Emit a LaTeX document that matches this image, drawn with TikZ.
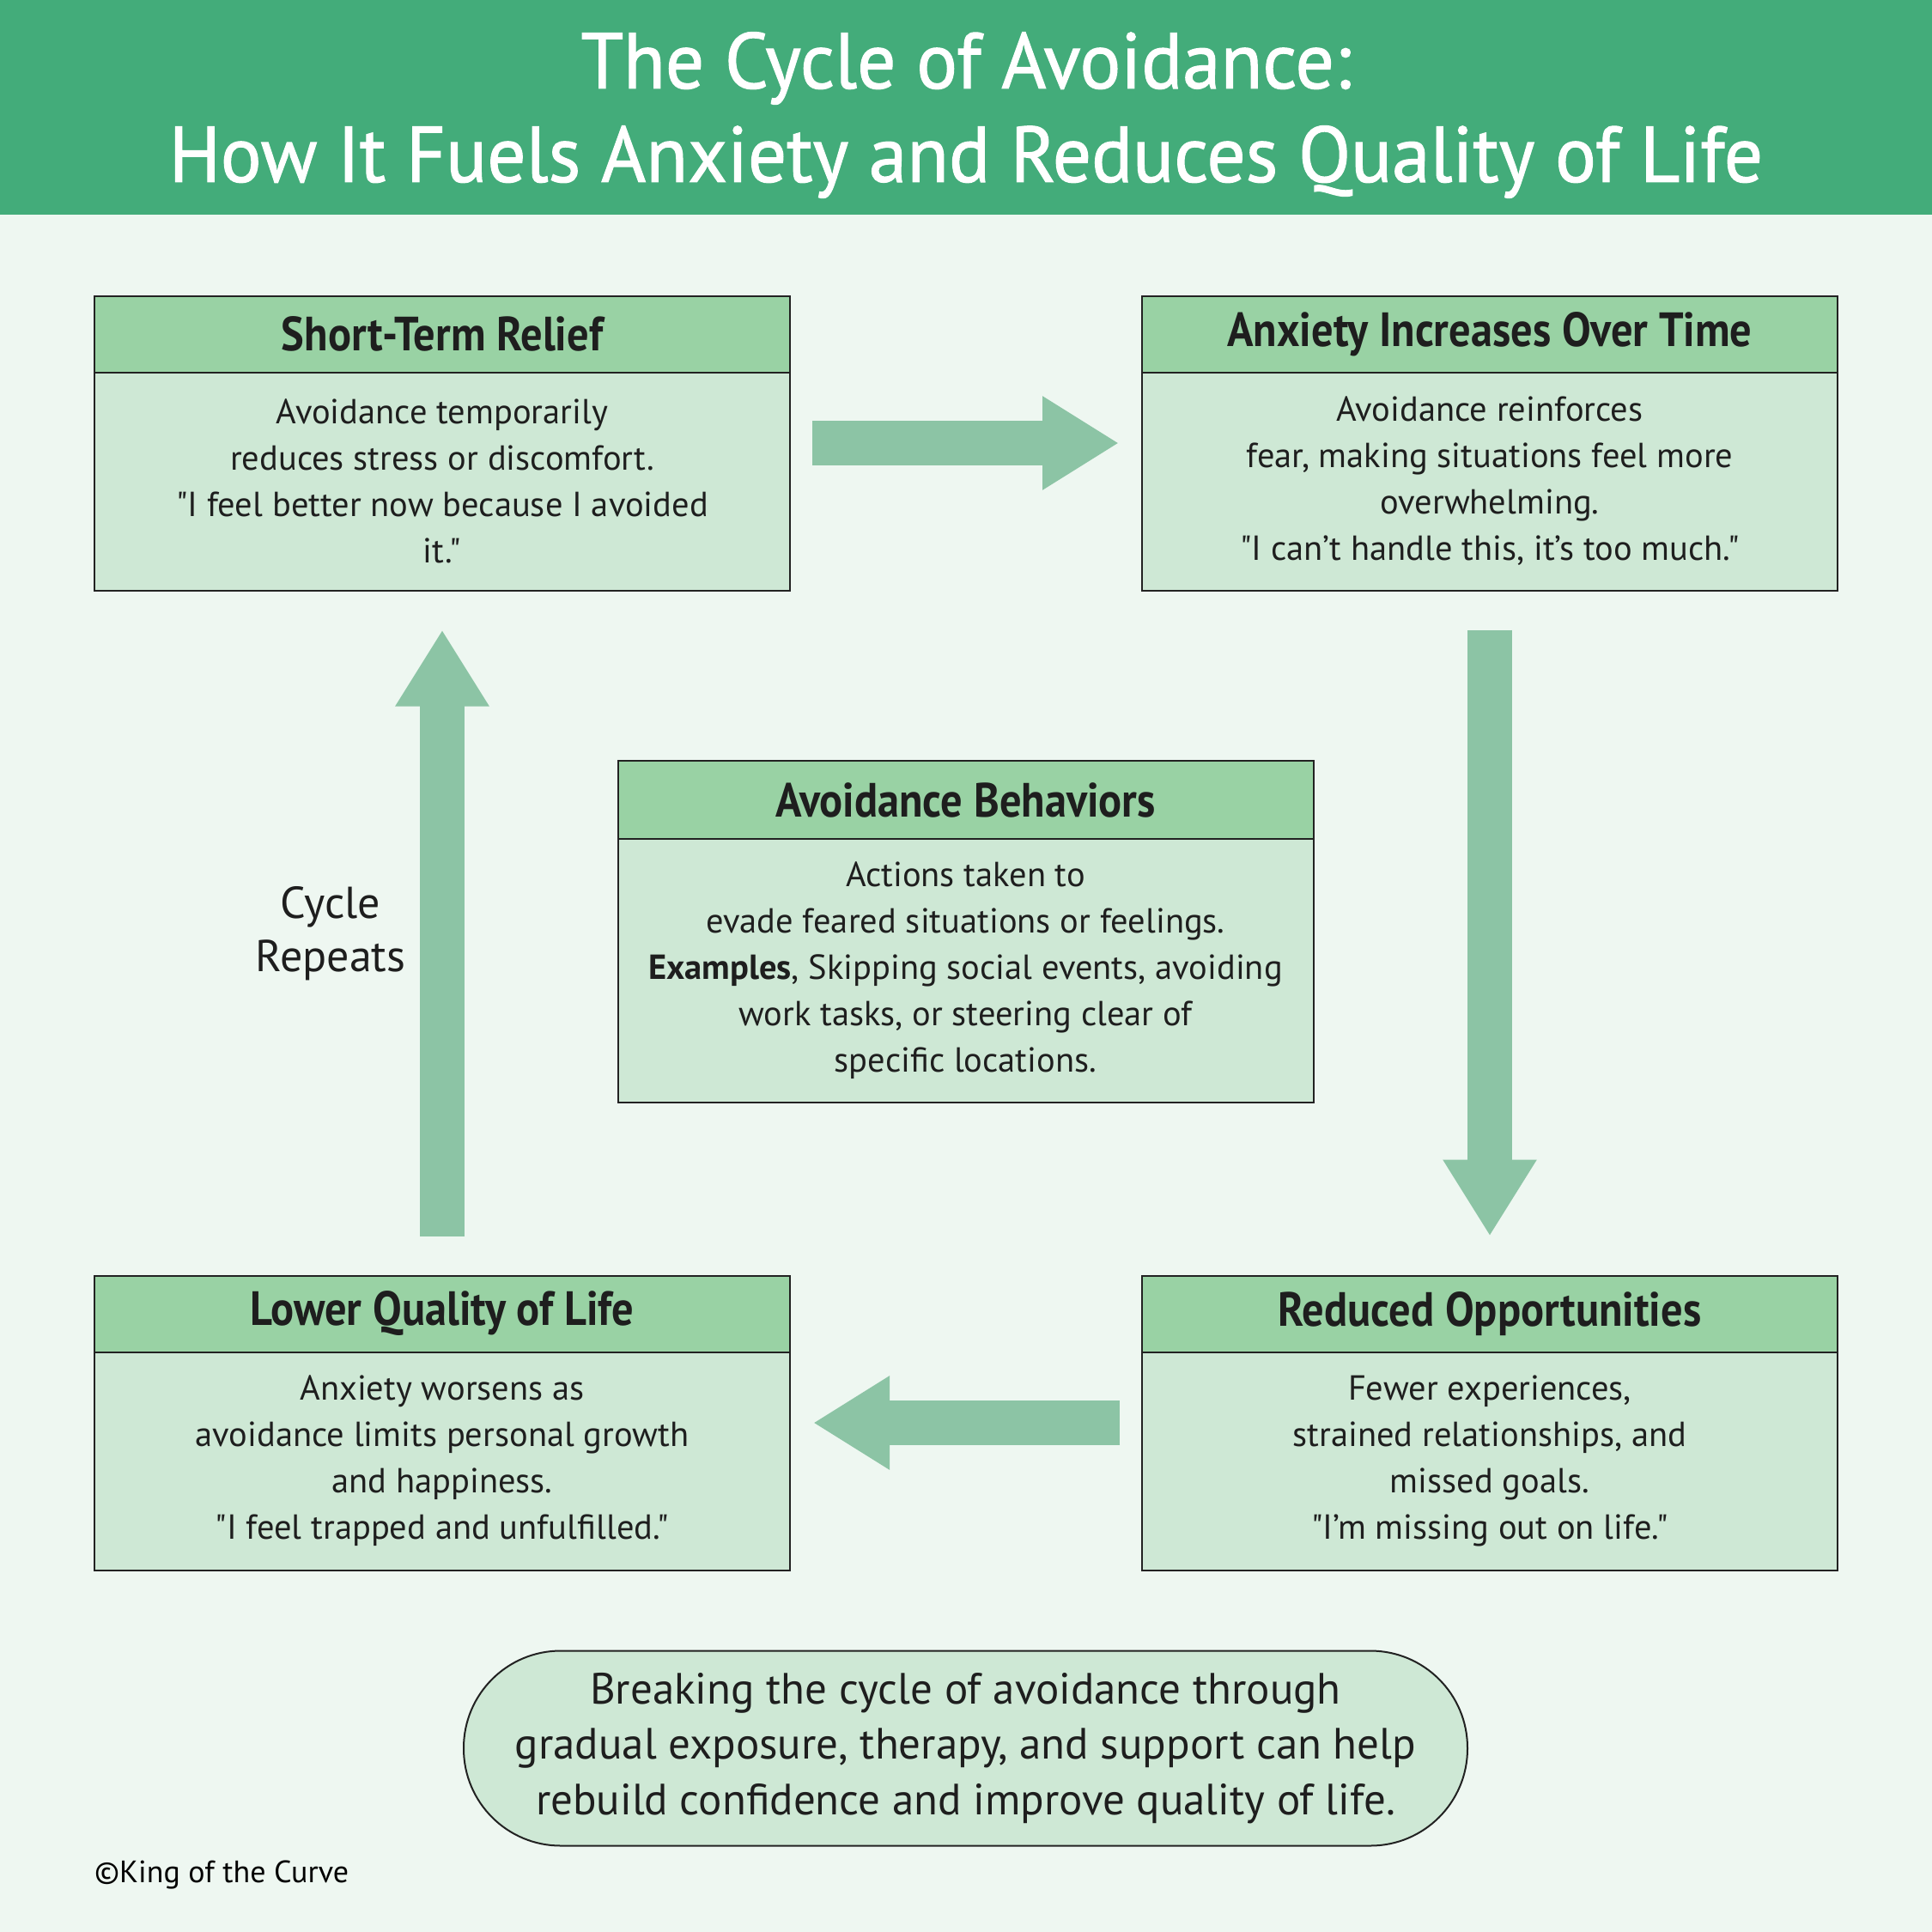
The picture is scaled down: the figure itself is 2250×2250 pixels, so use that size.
\documentclass[tikz,border=0pt]{standalone}
\usepackage{fontspec}
\setmainfont{PT Sans}[Ligatures=TeXOff]
\newfontfamily\narrowfont{PT Sans}[FakeStretch=0.9,Ligatures=TeXOff]
\newfontfamily\bannerfont{PT Sans}[FakeStretch=0.97,FakeBold=1.2]
\usetikzlibrary{arrows.meta,positioning,fit}

\definecolor{bandgreen}{HTML}{43AC7A}
\definecolor{pagebg}{HTML}{EEF7F1}
\definecolor{headgreen}{HTML}{99D2A4}
\definecolor{bodygreen}{HTML}{CEE8D5}
\definecolor{arrowgreen}{HTML}{8CC4A5}
\definecolor{edgegray}{HTML}{222222}
\definecolor{inkgray}{HTML}{1E1E1E}

\newcommand\titlesize{\bannerfont\fontsize{92}{109}\selectfont}
\newcommand\headsize{\narrowfont\bfseries\fontsize{56}{60}\selectfont}
\newcommand\bodysize{\fontsize{40.5}{54}\selectfont}
\newcommand\pillsize{\fontsize{51}{64.5}\selectfont}
\newcommand\cyclesize{\fontsize{52}{62}\selectfont}
\newcommand\copysize{\fontsize{36}{40}\selectfont}

\begin{document}
\begin{tikzpicture}[x=1pt,y=-1pt,
    head/.style={draw=edgegray,line width=2pt,fill=headgreen,minimum width=810pt,minimum height=89pt,
      inner sep=0pt,outer sep=0pt,font=\headsize,text=inkgray},
    body/.style={draw=edgegray,line width=2pt,fill=bodygreen,minimum width=810pt,minimum height=254pt,
      inner sep=0pt,outer sep=0pt,align=center,font=\bodysize,text=inkgray},
    frame/.style={inner sep=0pt,outer sep=0pt},
    flow/.style={arrowgreen,line width=52pt,-{Triangle[length=89pt,width=103pt]},
      shorten <=26pt,shorten >=27pt}]

  \useasboundingbox (0,0) rectangle (2250,2250);
  \fill[pagebg] (0,0) rectangle (2250,2250);
  \fill[bandgreen] (0,0) rectangle (2250,250);
  \node[font=\titlesize,text=white,align=center] (title) at (1125,134)
    {The Cycle of Avoidance:\\How It Fuels Anxiety and Reduces Quality of Life};

  % the four stages
  \node[head] (srh) at (515,389) {Short-Term Relief};
  \node[body,below=0pt of srh] (srb) {Avoidance temporarily\\reduces stress or discomfort.\\"I feel better now because I avoided\\it."};
  \node[frame,fit=(srh)(srb)] (sr) {};

  \node[head] (aih) at (1735,389) {Anxiety Increases Over Time};
  \node[body,below=0pt of aih] (aib) {Avoidance reinforces\\fear, making situations feel more\\overwhelming.\\"I can’t handle this, it’s too much."};
  \node[frame,fit=(aih)(aib)] (ai) {};

  \node[head] (roh) at (1735,1530) {Reduced Opportunities};
  \node[body,below=0pt of roh] (rob) {Fewer experiences,\\strained relationships, and\\missed goals.\\"I’m missing out on life."};
  \node[frame,fit=(roh)(rob)] (ro) {};

  \node[head] (lqh) at (515,1530) {Lower Quality of Life};
  \node[body,below=0pt of lqh] (lqb) {Anxiety worsens as\\avoidance limits personal growth\\and happiness.\\"I feel trapped and unfulfilled."};
  \node[frame,fit=(lqh)(lqb)] (lq) {};

  % centre box
  \node[head,minimum height=91pt] (abh) at (1124.5,931.5) {Avoidance Behaviors};
  \node[body,minimum height=307pt,below=0pt of abh] (abb) {Actions taken to\\evade feared situations or feelings.\\\textbf{Examples}, Skipping social events, avoiding\\work tasks, or steering clear of\\specific locations.};

  % the cycle
  \draw[flow] (sr) -- (ai);
  \draw[flow,shorten <=46pt,shorten >=46pt] (ai) -- (ro);
  \draw[flow] (ro) -- (lq);
  \draw[flow,shorten <=46pt,shorten >=46pt] (lq) -- (sr);

  \node[font=\cyclesize,text=inkgray,align=center] (cyc) at (385,1087) {Cycle\\Repeats};

  \node[draw=edgegray,line width=2pt,fill=bodygreen,rounded corners=113pt,minimum width=1169pt,
    minimum height=227pt,align=center,font=\pillsize,text=inkgray] (tip) at (1124.5,2036)
    {Breaking the cycle of avoidance through\\gradual exposure, therapy, and support can help\\rebuild confidence and improve quality of life.};

  \node[anchor=west,inner sep=0pt,font=\copysize] (copy) at (110,2183) {©King of the Curve};
\end{tikzpicture}
\end{document}
